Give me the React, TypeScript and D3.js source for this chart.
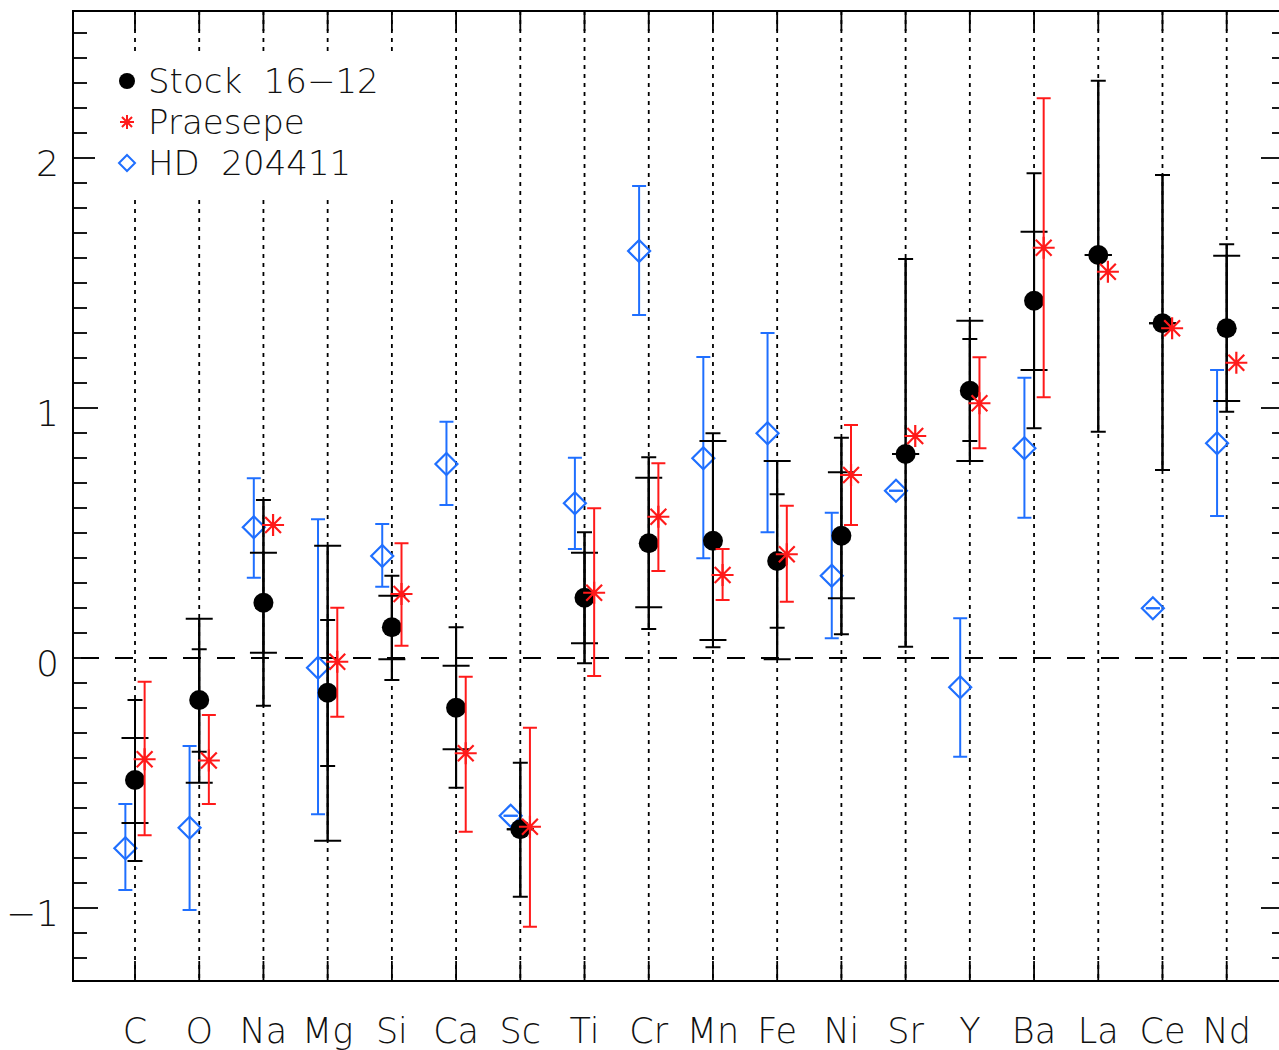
import React from "react";
import * as d3 from "d3";

const elements = ["C", "O", "Na", "Mg", "Si", "Ca", "Sc", "Ti", "Cr", "Mn", "Fe", "Ni", "Sr", "Y", "Ba", "La", "Ce", "Nd"];

// Stock 16-12 (black)
const stockValues = [-0.488, -0.168, 0.221, -0.139, 0.123, -0.199, -0.685, 0.241, 0.459, 0.469, 0.388, 0.489, 0.816, 1.069, 1.429, 1.612, 1.339, 1.319];
const stockWideLo = [-0.66, -0.499, 0.021, -0.731, -0.005, -0.365, -0.685, 0.059, 0.203, 0.072, -0.005, 0.239, 0.816, 0.788, 1.152, 1.612, 1.339, 1.028];
const stockWideHi = [-0.32, 0.157, 0.421, 0.449, 0.249, -0.031, -0.685, 0.421, 0.721, 0.868, 0.788, 0.743, 0.816, 1.349, 1.705, 1.612, 1.339, 1.609];
const stockNarrowLo = [-0.812, -0.375, -0.191, -0.432, -0.088, -0.519, -0.955, -0.021, 0.116, 0.043, 0.121, 0.095, 0.045, 0.868, 0.919, 0.905, 0.752, 0.985];
const stockNarrowHi = [-0.168, 0.035, 0.632, 0.152, 0.329, 0.123, -0.419, 0.503, 0.803, 0.899, 0.655, 0.881, 1.596, 1.276, 1.939, 2.309, 1.932, 1.655];

// Praesepe (red)
const praeValues = [-0.405, -0.41, 0.532, -0.015, 0.256, -0.381, -0.675, 0.261, 0.565, 0.332, 0.415, 0.732, 0.888, 1.019, 1.641, 1.545, 1.319, 1.181];
const praeLo = [-0.709, -0.584, null, -0.235, 0.049, -0.695, -1.075, -0.072, 0.348, 0.232, 0.225, 0.532, null, 0.839, 1.043, null, null, null];
const praeHi = [-0.095, -0.228, null, 0.201, 0.459, -0.075, -0.279, 0.599, 0.779, 0.436, 0.609, 0.932, null, 1.203, 2.239, null, null, null];

// HD 204411 (blue)
const hdValues = [-0.761, -0.679, 0.523, -0.039, 0.408, 0.776, -0.631, 0.619, 1.628, 0.799, 0.899, 0.329, 0.669, -0.117, 0.839, null, 0.199, 0.859];
const hdLo = [-0.928, -1.008, 0.321, -0.625, 0.285, 0.612, -0.631, 0.436, 1.372, 0.399, 0.503, 0.079, 0.669, -0.395, 0.561, null, 0.199, 0.568];
const hdHi = [-0.584, -0.352, 0.719, 0.555, 0.536, 0.945, -0.631, 0.801, 1.888, 1.204, 1.3, 0.581, 0.669, 0.159, 1.121, null, 0.199, 1.152];

const yMajorTicks = [-1, 0, 1, 2];
const yTickLabels = ["\u22121", "0", "1", "2"];
const legendLabels = ["Stock  16\u221212", "Praesepe", "HD  204411"];

const W = 1279;
const H = 1050;
const frame = { left: 73, right: 1286, top: 11, bottom: 981 };
const BLUE = "#1f6fff";
const RED = "#ff1a1a";
const FONT = "'DejaVu Sans', sans-serif";

function starPath(r: number) {
  const d = r * 0.72;
  return `M${-r},0L${r},0M0,${-r}L0,${r}M${-d},${-d}L${d},${d}M${-d},${d}L${d},${-d}`;
}
function diamondPath(r: number) {
  return `M0,${-r}L${r},0L0,${r}L${-r},0Z`;
}

function ErrBar({ x, lo, hi, cap, color, sw }: any) {
  return (
    <g stroke={color} strokeWidth={sw} fill="none">
      <line x1={x} x2={x} y1={lo} y2={hi} />
      <line x1={x - cap / 2} x2={x + cap / 2} y1={lo} y2={lo} />
      <line x1={x - cap / 2} x2={x + cap / 2} y1={hi} y2={hi} />
    </g>
  );
}

export default function App() {
  const x = d3.scaleLinear().domain([1, 18]).range([135, 1226.7]);
  const y = d3.scaleLinear().domain([-1, 2]).range([908, 158]);
  const minor = d3.range(-12, 26).map((v) => v / 10).filter((v) => Math.abs(v - Math.round(v)) > 1e-6);
  const off = 0.15;

  return (
    <svg width={W} height={H} style={{ position: "absolute", left: 0, top: 0, background: "#fff" }}>
      <rect x={0} y={0} width={W} height={H} fill="#fff" />
      {/* vertical dotted category lines */}
      {elements.map((e, i) => (
        <g key={"v" + e} stroke="#000" strokeWidth={1.8}>
          <line x1={x(i + 1)} x2={x(i + 1)} y1={frame.top} y2={frame.bottom} strokeDasharray="4,5" />
          <line x1={x(i + 1)} x2={x(i + 1)} y1={frame.top} y2={frame.top + 20} />
          <line x1={x(i + 1)} x2={x(i + 1)} y1={frame.bottom} y2={frame.bottom - 20} />
        </g>
      ))}
      {/* zero dashed line */}
      <line x1={frame.left} x2={frame.right} y1={y(0)} y2={y(0)} stroke="#000" strokeWidth={1.8} strokeDasharray="18,16" strokeDashoffset={-8} />
      {/* frame */}
      <rect x={frame.left} y={frame.top} width={frame.right - frame.left} height={frame.bottom - frame.top} fill="none" stroke="#000" strokeWidth={2} />
      {/* y ticks */}
      <g stroke="#000" strokeWidth={1.8}>
        {minor.map((v) => (
          <g key={"m" + v}>
            <line x1={frame.left} x2={frame.left + 14} y1={y(v)} y2={y(v)} />
            <line x1={frame.right} x2={frame.right - 14} y1={y(v)} y2={y(v)} />
          </g>
        ))}
        {yMajorTicks.map((v) => (
          <g key={"M" + v}>
            <line x1={frame.left} x2={frame.left + 25} y1={y(v)} y2={y(v)} />
            <line x1={frame.right} x2={frame.right - 25} y1={y(v)} y2={y(v)} />
          </g>
        ))}
      </g>
      {yMajorTicks.map((v, i) => (
        <text key={"yl" + v} x={59} y={y(v) + 18} textAnchor="end" fontFamily={FONT} fontWeight={200} fontSize={36} fill="#111">
          {yTickLabels[i]}
        </text>
      ))}
      {elements.map((e, i) => (
        <text key={"xl" + e} x={x(i + 1)} y={1043} textAnchor="middle" fontFamily={FONT} fontWeight={200} fontSize={35} fill="#111">
          {e}
        </text>
      ))}

      {/* HD 204411 (blue) */}
      {elements.map((e, i) =>
        hdValues[i] == null ? null : (
          <g key={"hd" + e}>
            <ErrBar x={x(i + 1 - off)} lo={y(hdLo[i] as number)} hi={y(hdHi[i] as number)} cap={14} color={BLUE} sw={2} />
            <path d={diamondPath(11)} transform={`translate(${x(i + 1 - off)},${y(hdValues[i] as number)})`} fill="none" stroke={BLUE} strokeWidth={2.2} />
          </g>
        )
      )}
      {/* Stock 16-12 (black) */}
      {elements.map((e, i) => (
        <g key={"st" + e}>
          <line x1={x(i + 1)} x2={x(i + 1)} y1={y(Math.min(stockWideLo[i], stockNarrowLo[i]))} y2={y(Math.max(stockWideHi[i], stockNarrowHi[i]))} stroke="#000" strokeWidth={2} />
          <ErrBar x={x(i + 1)} lo={y(stockNarrowLo[i])} hi={y(stockNarrowHi[i])} cap={15} color="#000" sw={2} />
          <ErrBar x={x(i + 1)} lo={y(stockWideLo[i])} hi={y(stockWideHi[i])} cap={27} color="#000" sw={2} />
          <circle cx={x(i + 1)} cy={y(stockValues[i])} r={10} fill="#000" />
        </g>
      ))}
      {/* Praesepe (red) */}
      {elements.map((e, i) => (
        <g key={"pr" + e}>
          {praeLo[i] != null && (
            <ErrBar x={x(i + 1 + off)} lo={y(praeLo[i] as number)} hi={y(praeHi[i] as number)} cap={14} color={RED} sw={2} />
          )}
          <path d={starPath(11)} transform={`translate(${x(i + 1 + off)},${y(praeValues[i])})`} fill="none" stroke={RED} strokeWidth={2.2} />
        </g>
      ))}

      {/* legend */}
      <g>
        <rect x={95} y={52} width={330} height={146} fill="#fff" />
        <circle cx={127} cy={81} r={8} fill="#000" />
        <path d={starPath(7)} transform="translate(127,122)" fill="none" stroke={RED} strokeWidth={2} />
        <path d={diamondPath(8)} transform="translate(127,163)" fill="none" stroke={BLUE} strokeWidth={2} />
        {legendLabels.map((t, i) => (
          <text key={t} x={148} y={93 + i * 41} fontFamily={FONT} fontWeight={200} fontSize={34} fill="#111" style={{ whiteSpace: "pre" }}>
            {t}
          </text>
        ))}
      </g>
    </svg>
  );
}
